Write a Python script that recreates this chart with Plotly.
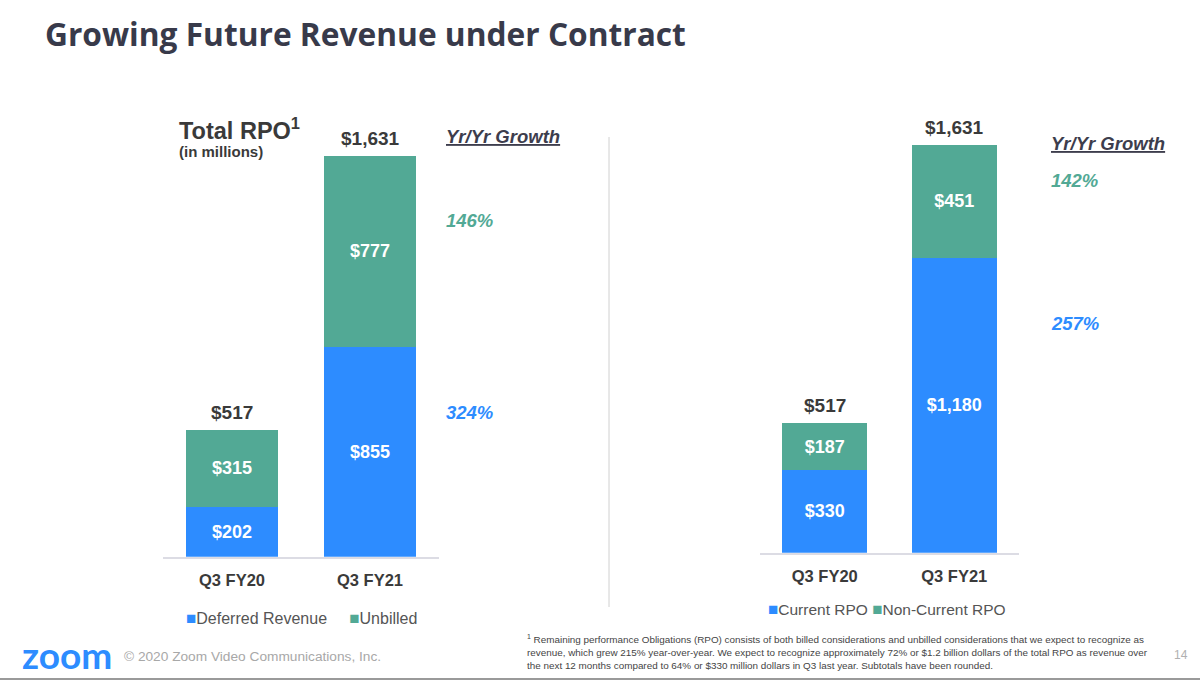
import plotly.graph_objects as go

# data
quarters = ["Q3 FY20", "Q3 FY21"]
deferred_revenue = [202, 855]
unbilled = [315, 777]
current_rpo = [330, 1180]
non_current_rpo = [187, 451]
totals = [517, 1631]
growth_left = ["324%", "146%"]   # deferred, unbilled
growth_right = ["257%", "142%"]  # current, non-current

BLUE = "#2D8CFF"
GREEN = "#52A995"
DARK = "#3a3a3a"
FONT = "Arial, Liberation Sans, sans-serif"
W, H = 1200, 681


def py(px):
    return 1 - px / H


def px_x(px):
    return px / W


fig = go.Figure()

bar_text = dict(family=FONT, size=18, color="white", weight="bold")


def stacked(values, name, color, width, xa, ya):
    return go.Bar(x=quarters, y=values, name=name, marker_color=color, width=width,
                  xaxis=xa, yaxis=ya, text=["$" + format(v, ",") for v in values],
                  textposition="inside", insidetextanchor="middle",
                  insidetextfont=bar_text, constraintext="none",
                  marker_line_width=0, showlegend=False)


fig.add_trace(stacked(deferred_revenue, "Deferred Revenue", BLUE, 0.67, "x", "y"))
fig.add_trace(stacked(unbilled, "Unbilled", GREEN, 0.67, "x", "y"))
fig.add_trace(stacked(current_rpo, "Current RPO", BLUE, 0.66, "x2", "y2"))
fig.add_trace(stacked(non_current_rpo, "Non-Current RPO", GREEN, 0.66, "x2", "y2"))

axis_common = dict(showgrid=False, zeroline=False, ticks="", ticklabelstandoff=7,
                   tickfont=dict(family=FONT, size=16.5, color=DARK, weight="bold"),
                   showline=True, linecolor="#dcdce4", linewidth=2, fixedrange=True)
yaxis_common = dict(visible=False, range=[0, 1631], fixedrange=True)

annotations = []
for xr, yr in (("x", "y"), ("x2", "y2")):
    for q, t in zip(quarters, totals):
        annotations.append(dict(x=q, y=t, xref=xr, yref=yr, text="$" + format(t, ","),
                                showarrow=False, yanchor="bottom", yshift=5,
                                font=dict(family=FONT, size=19, color=DARK, weight="bold")))


def label(x, y, text, size, color, family=FONT, weight="normal", style="normal"):
    annotations.append(dict(x=px_x(x), y=py(y), xref="paper", yref="paper", text=text,
                            showarrow=False, xanchor="left", yanchor="middle", align="left",
                            font=dict(family=family, size=size, color=color,
                                      weight=weight, style=style)))


# growth column
label(444, 136, "<u>Yr/Yr Growth</u>", 18.5, "#3d3d4d", weight="bold", style="italic")
label(444, 220, growth_left[1], 18.5, GREEN, weight="bold", style="italic")
label(444, 412, growth_left[0], 18.5, BLUE, weight="bold", style="italic")
label(1049, 144, "<u>Yr/Yr Growth</u>", 18.5, "#3d3d4d", weight="bold", style="italic")
label(1049, 180, growth_right[1], 18.5, GREEN, weight="bold", style="italic")
label(1049, 323, growth_right[0], 18.5, BLUE, weight="bold", style="italic")

# legends
def legend_text(names, colors, gap):
    parts = ["<span style='color:%s;font-size:17px'>■</span>%s" % (c, n)
             for n, c in zip(names, colors)]
    return gap.join(parts)


label(184, 618, legend_text(["Deferred Revenue", "Unbilled"], [BLUE, GREEN],
                            "&nbsp;&nbsp;&nbsp;&nbsp;&nbsp;"), 16, "#555555")
label(766, 609, legend_text(["Current RPO", "Non-Current RPO"], [BLUE, GREEN], " "),
      15.5, "#555555")

# titles and footer
label(43, 34, "Growing Future Revenue under Contract", 31.7, "#383a4a",
      family="Open Sans", weight="bold")
label(177, 129, "Total RPO<sup>1</sup>", 23.5, DARK, weight="bold")
label(177, 152, "(in millions)", 15, DARK, weight="bold")
label(20, 654, "zoom", 37, BLUE, family="Lato", weight="bold")
label(122, 656, "© 2020 Zoom Video Communications, Inc.", 13.7, "#a8a8a8")
label(525, 652,
      "<sup>1</sup> Remaining performance Obligations (RPO) consists of both billed considerations and unbilled considerations that we expect to recognize as<br>"
      "revenue, which grew 215% year-over-year. We expect to recognize approximately 72% or $1.2 billion dollars of the total RPO as revenue over<br>"
      "the next 12 months compared to 64% or $330 million dollars in Q3 last year. Subtotals have been rounded.",
      9.9, "#444444")
label(1172, 655, "14", 12, "#b0b0b0")

fig.update_layout(
    width=W, height=H, margin=dict(l=0, r=0, t=0, b=0),
    paper_bgcolor="white", plot_bgcolor="white",
    barmode="stack",
    xaxis=dict(domain=[px_x(163), px_x(439)], anchor="y", **axis_common),
    yaxis=dict(domain=[py(556.7), py(156)], anchor="x", **yaxis_common),
    xaxis2=dict(domain=[px_x(760), px_x(1019)], anchor="y2", **axis_common),
    yaxis2=dict(domain=[py(552.7), py(145)], anchor="x2", **yaxis_common),
    annotations=annotations,
    shapes=[
        dict(type="line", xref="paper", yref="paper", x0=px_x(609), x1=px_x(609),
             y0=py(137), y1=py(607), line=dict(color="#d0d0d0", width=1)),
        dict(type="line", xref="paper", yref="paper", x0=0, x1=1,
             y0=py(679), y1=py(679), line=dict(color="#9a9a9a", width=2)),
    ],
    showlegend=False,
)

fig.write_html("out.html", config={"displayModeBar": False},
               post_script="document.body.style.margin='0';")
